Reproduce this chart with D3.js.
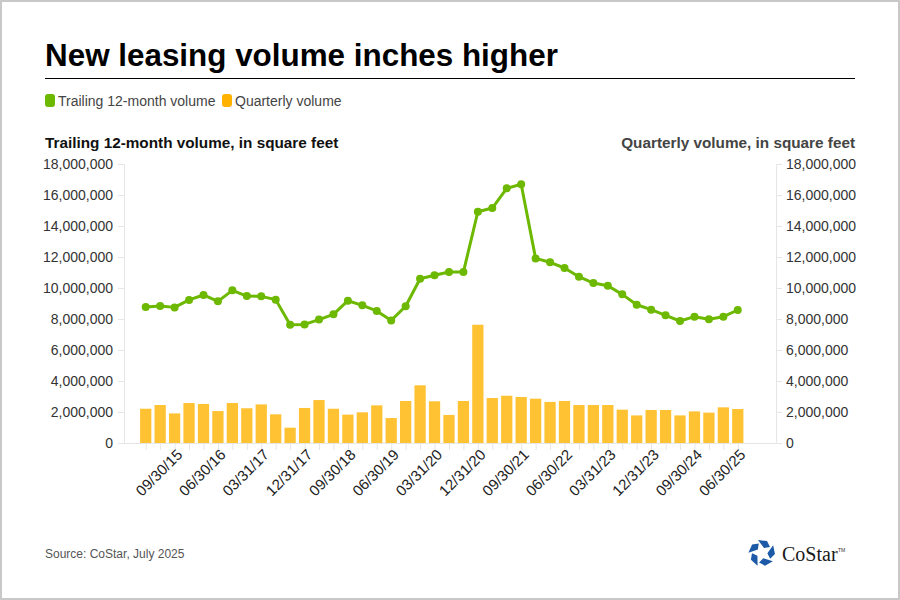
<!DOCTYPE html>
<html>
<head>
<meta charset="utf-8">
<script src="https://cdn.jsdelivr.net/npm/d3@7"></script>
<style>
  body { margin: 0; background: #fff; }
  svg { font-family: "Liberation Sans", Arial, sans-serif; }
</style>
</head>
<body>
<div class="canvas"></div>
<script>
// quarter end dates, 03/31/15 .. 06/30/25
const quarters = [
  '03/31/15', '06/30/15', '09/30/15', '12/31/15',
  '03/31/16', '06/30/16', '09/30/16', '12/31/16',
  '03/31/17', '06/30/17', '09/30/17', '12/31/17',
  '03/31/18', '06/30/18', '09/30/18', '12/31/18',
  '03/31/19', '06/30/19', '09/30/19', '12/31/19',
  '03/31/20', '06/30/20', '09/30/20', '12/31/20',
  '03/31/21', '06/30/21', '09/30/21', '12/31/21',
  '03/31/22', '06/30/22', '09/30/22', '12/31/22',
  '03/31/23', '06/30/23', '09/30/23', '12/31/23',
  '03/31/24', '06/30/24', '09/30/24', '12/31/24',
  '03/31/25', '06/30/25'
];

// trailing 12-month volume, sq ft
const trailing = [
  8770000, 8840000, 8750000, 9230000, 9550000, 9140000, 9850000, 9480000,
  9460000, 9250000, 7630000, 7650000, 7960000, 8300000, 9180000, 8880000,
  8520000, 7910000, 8820000, 10600000, 10820000, 11030000, 11030000, 14920000,
  15160000, 16430000, 16690000, 11910000, 11660000, 11290000, 10730000, 10320000,
  10150000, 9590000, 8920000, 8600000, 8240000, 7870000, 8150000, 7980000,
  8150000, 8580000
];

// quarterly volume, sq ft
const quarterly = [
  2210000, 2450000, 1910000, 2580000, 2520000, 2060000, 2580000, 2240000,
  2490000, 1850000, 990000, 2260000, 2770000, 2210000, 1830000, 1980000,
  2430000, 1610000, 2710000, 3720000, 2690000, 1810000, 2710000, 7630000,
  2900000, 3050000, 2970000, 2860000, 2650000, 2710000, 2450000, 2450000,
  2450000, 2150000, 1780000, 2130000, 2130000, 1780000, 2040000, 1960000,
  2300000, 2190000
];

const yTicks = [0, 2000000, 4000000, 6000000, 8000000, 10000000, 12000000, 14000000, 16000000, 18000000];
const tickLabels = quarters.filter((d, i) => i % 3 === 2);

const green = '#6db800';
const yellow = '#ffc233';

const svg = d3.select('.canvas')
  .append('svg')
  .attr('width', 900)
  .attr('height', 600);

// frame
svg.append('rect')
  .attr('x', 1).attr('y', 1)
  .attr('width', 898).attr('height', 598)
  .attr('fill', '#fff')
  .attr('stroke', '#c8c8c8')
  .attr('stroke-width', 2);

// title
svg.append('text')
  .attr('x', 45).attr('y', 66)
  .attr('font-size', 31.4).attr('font-weight', 'bold')
  .attr('fill', '#000')
  .text('New leasing volume inches higher');

svg.append('line')
  .attr('x1', 45).attr('x2', 855)
  .attr('y1', 78.5).attr('y2', 78.5)
  .attr('stroke', '#000').attr('stroke-width', 1);

// legend
const legend = [
  { name: 'Trailing 12-month volume', colour: green, x: 45 },
  { name: 'Quarterly volume', colour: '#ffb300', x: 222 }
];
const lg = svg.selectAll('.legend')
  .data(legend)
  .enter()
  .append('g')
  .attr('transform', d => `translate(${d.x}, 94)`);
lg.append('rect')
  .attr('width', 10).attr('height', 13)
  .attr('rx', 3)
  .attr('fill', d => d.colour);
lg.append('text')
  .attr('x', 13).attr('y', 11.5)
  .attr('font-size', 14).attr('fill', '#444')
  .text(d => d.name);

// axis titles
svg.append('text')
  .attr('x', 45).attr('y', 148)
  .attr('font-size', 15.3).attr('font-weight', 'bold').attr('fill', '#111')
  .text('Trailing 12-month volume, in square feet');
svg.append('text')
  .attr('x', 855).attr('y', 148)
  .attr('text-anchor', 'end')
  .attr('font-size', 15.3).attr('font-weight', 'bold').attr('fill', '#444')
  .text('Quarterly volume, in square feet');

// scales
const plotLeft = 124, plotRight = 776;
const x = d3.scaleBand()
  .domain(quarters)
  .range([138.5, 745])
  .paddingInner(0.22)
  .paddingOuter(0.11);

const y = d3.scaleLinear()
  .domain([0, 18000000])
  .range([443, 164]);

const fmt = d3.format(',');

// left axis
const leftAxis = svg.append('g')
  .attr('transform', `translate(${plotLeft}, 0)`)
  .call(d3.axisLeft(y).tickValues(yTicks).tickFormat(fmt).tickSize(6).tickPadding(5));

// right axis
const rightAxis = svg.append('g')
  .attr('transform', `translate(${plotRight}, 0)`)
  .call(d3.axisRight(y).tickValues(yTicks).tickFormat(fmt).tickSize(6).tickPadding(4));

[leftAxis, rightAxis].forEach(a => {
  a.select('.domain').attr('stroke', '#e6e6e6');
  a.selectAll('.tick line').attr('stroke', '#e6e6e6');
  a.selectAll('.tick text')
    .attr('font-size', 14)
    .attr('fill', '#333')
    .attr('font-family', '"Liberation Sans", Arial, sans-serif');
});

// bars
svg.append('g')
  .selectAll('rect')
  .data(quarterly)
  .enter()
  .append('rect')
  .attr('x', (d, i) => x(quarters[i]))
  .attr('y', d => y(d))
  .attr('width', x.bandwidth())
  .attr('height', d => y(0) - y(d))
  .attr('fill', yellow);

// x axis baseline
svg.append('line')
  .attr('x1', plotLeft).attr('x2', plotRight)
  .attr('y1', y(0) + 0.5).attr('y2', y(0) + 0.5)
  .attr('stroke', '#e6e6e6');

const cx = q => x(q) + x.bandwidth() / 2;

// category ticks
svg.append('g')
  .selectAll('line')
  .data(quarters)
  .enter()
  .append('line')
  .attr('x1', d => cx(d) + 0.5).attr('x2', d => cx(d) + 0.5)
  .attr('y1', y(0) + 1).attr('y2', y(0) + 7)
  .attr('stroke', '#e6e6e6');

// x labels
svg.append('g')
  .selectAll('text')
  .data(tickLabels)
  .enter()
  .append('text')
  .attr('transform', d => `translate(${cx(d) + 5}, ${y(0) + 9}) rotate(-45)`)
  .attr('text-anchor', 'end')
  .attr('dy', '0.35em')
  .attr('font-size', 15)
  .attr('fill', '#222')
  .text(d => d);

// trailing line
const line = d3.line()
  .x((d, i) => cx(quarters[i]))
  .y(d => y(d));

svg.append('path')
  .datum(trailing)
  .attr('d', line)
  .attr('fill', 'none')
  .attr('stroke', green)
  .attr('stroke-width', 3)
  .attr('stroke-linejoin', 'round');

svg.append('g')
  .selectAll('circle')
  .data(trailing)
  .enter()
  .append('circle')
  .attr('cx', (d, i) => cx(quarters[i]))
  .attr('cy', d => y(d))
  .attr('r', 4)
  .attr('fill', green);

// source
svg.append('text')
  .attr('x', 45).attr('y', 558)
  .attr('font-size', 12).attr('fill', '#555')
  .text('Source: CoStar, July 2025');

// logo
const logo = svg.append('g').attr('transform', 'translate(762, 553)');
d3.range(5).forEach(i => {
  logo.append('path')
    .attr('d', 'M-4,-13 L5,-12 L8,-6 L2,-5 Z')
    .attr('fill', '#1c5aa8')
    .attr('transform', `rotate(${i * 72})`);
});
svg.append('text')
  .attr('x', 782).attr('y', 561)
  .style('font-family', '"Liberation Serif", "DejaVu Serif", serif')
  .attr('font-size', 20).attr('fill', '#1a1a1a')
  .text('CoStar');
svg.append('text')
  .attr('x', 838).attr('y', 552)
  .attr('font-size', 5).attr('fill', '#333')
  .text('TM');
</script>
</body>
</html>
